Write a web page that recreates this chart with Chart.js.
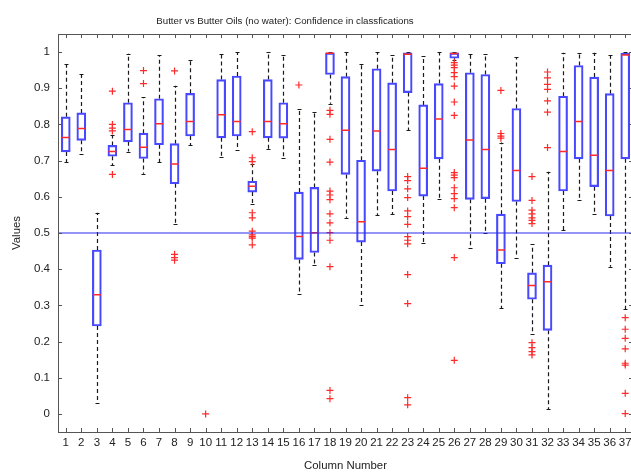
<!DOCTYPE html>
<html><head><meta charset="utf-8">
<script src="https://cdn.jsdelivr.net/npm/chart.js@4/dist/chart.umd.min.js"></script>
<style>html,body{margin:0;padding:0;overflow:hidden;background:#fff;width:631px;height:474px}canvas{display:block}</style>
</head><body>
<canvas id="c" width="640" height="474"></canvas>
<script>
const columns = ['1','2','3','4','5','6','7','8','9','10','11','12','13','14','15','16','17','18','19','20','21','22','23','24','25','26','27','28','29','30','31','32','33','34','35','36','37'];
const whiskerLow  = [0.695,0.719,0.030,0.687,0.725,0.664,0.696,0.526,0.742,null,0.710,0.729,0.581,0.731,0.708,0.331,0.411,0.857,0.542,0.300,0.550,0.552,0.785,0.473,0.593,0.978,0.458,0.501,0.292,0.432,0.222,0.013,0.507,0.592,0.552,0.407,0.290];
const q1          = [0.724,0.756,0.243,0.712,0.752,0.706,0.744,0.636,0.768,null,0.763,0.768,0.613,0.763,0.762,0.427,0.446,0.938,0.662,0.475,0.671,0.616,0.888,0.602,0.705,0.983,0.593,0.595,0.415,0.587,0.317,0.231,0.616,0.705,0.628,0.547,0.705];
const median      = [0.764,0.789,0.329,0.725,0.786,0.737,0.802,0.691,0.808,null,0.827,0.808,0.629,0.808,0.802,0.490,0.501,0.997,0.784,0.531,0.782,0.731,0.994,0.679,0.815,0.996,0.757,0.731,0.453,0.673,0.355,0.365,0.725,0.808,0.715,0.673,0.992];
const q3          = [0.821,0.832,0.453,0.742,0.860,0.776,0.871,0.747,0.886,null,0.924,0.934,0.643,0.924,0.860,0.613,0.626,0.998,0.932,0.701,0.954,0.915,0.998,0.854,0.913,0.998,0.943,0.938,0.552,0.844,0.390,0.411,0.878,0.963,0.931,0.885,0.997];
const whiskerHigh = [0.966,0.940,0.556,0.770,0.996,0.876,0.992,0.907,0.977,null,0.995,1.000,0.690,1.000,0.991,0.844,0.835,1.000,1.000,0.966,1.000,0.992,1.000,0.989,1.000,1.000,0.995,0.994,0.750,0.986,0.469,0.669,0.998,0.998,0.998,0.992,1.000];
const outliers = [
  [],[],[],
  [0.892,0.800,0.790,0.782,0.662],
  [],
  [0.949,0.913],
  [],
  [0.948,0.441,0.432,0.425],
  [],
  [0.000],
  [],[],
  [0.780,0.708,0.697,0.556,0.542,0.505,0.495,0.490,0.486,0.467],
  [],[],
  [0.909],
  [],
  [0.839,0.828,0.759,0.696,0.616,0.605,0.592,0.553,0.528,0.501,0.480,0.407,0.065,0.042],
  [],[],[],[],
  [0.656,0.645,0.622,0.598,0.561,0.545,0.524,0.490,0.480,0.470,0.385,0.305,0.045,0.025],
  [],[],
  [0.971,0.964,0.957,0.943,0.932,0.906,0.862,0.825,0.667,0.660,0.653,0.625,0.609,0.595,0.570,0.432,0.148],
  [],[],
  [0.894,0.775,0.768,0.762],
  [],
  [0.656,0.590,0.563,0.553,0.542,0.535,0.526,0.197,0.183,0.172,0.163],
  [0.945,0.929,0.911,0.897,0.865,0.834,0.736],
  [],[],[],[],
  [0.266,0.234,0.209,0.180,0.140,0.135,0.057,0.001]
];
const yTickValues = [0,0.1,0.2,0.3,0.4,0.5,0.6,0.7,0.8,0.9,1];
const referenceValue = 0.5;
const titleText = 'Butter vs Butter Oils (no water): Confidence in classfications';
const xTitle = 'Column Number';
const yTitle = 'Values';

const FONT = '"Liberation Sans", Arial, sans-serif';
const boxRanges = columns.map((c,i) => q1[i] === null ? null : [q1[i], q3[i]]);
const outlierPoints = [];
outliers.forEach((list,i) => list.forEach(v => outlierPoints.push({x: columns[i], y: v})));

const boxPlugin = {
  id: 'boxParts',
  beforeDatasetsDraw(chart) {
    const {ctx, scales: {x, y}} = chart;
    ctx.save();
    ctx.strokeStyle = '#1a1a1a';
    ctx.lineWidth = 1.2;
    ctx.setLineDash([4, 3]);
    columns.forEach((c, i) => {
      if (q1[i] === null) return;
      const px = Math.round(x.getPixelForValue(i)) + 0.5;
      ctx.beginPath();
      ctx.moveTo(px, y.getPixelForValue(q3[i]));
      ctx.lineTo(px, y.getPixelForValue(whiskerHigh[i]));
      ctx.moveTo(px, y.getPixelForValue(q1[i]));
      ctx.lineTo(px, y.getPixelForValue(whiskerLow[i]));
      ctx.stroke();
    });
    ctx.setLineDash([]);
    ctx.beginPath();
    columns.forEach((c, i) => {
      if (q1[i] === null) return;
      const px = Math.round(x.getPixelForValue(i)) + 0.5;
      [whiskerHigh[i], whiskerLow[i]].forEach(v => {
        const py = Math.round(y.getPixelForValue(v)) + 0.5;
        ctx.moveTo(px - 2, py); ctx.lineTo(px + 2, py);
      });
    });
    ctx.stroke();
    ctx.restore();
  },
  afterDatasetsDraw(chart) {
    const {ctx, chartArea, scales: {x, y}} = chart;
    ctx.save();
    ctx.strokeStyle = '#ff2a2a';
    ctx.lineWidth = 1.5;
    ctx.beginPath();
    columns.forEach((c, i) => {
      if (median[i] === null) return;
      const px = x.getPixelForValue(i);
      const py = y.getPixelForValue(median[i]);
      ctx.moveTo(px - 4, py); ctx.lineTo(px + 4, py);
    });
    ctx.stroke();
    ctx.strokeStyle = '#2b2bf0';
    ctx.lineWidth = 1.2;
    const ry = y.getPixelForValue(referenceValue);
    ctx.beginPath();
    ctx.moveTo(chartArea.left, ry); ctx.lineTo(chartArea.right, ry);
    ctx.stroke();
    ctx.restore();
  },
  afterDraw(chart) {
    const {ctx, chartArea: a, scales: {x, y}} = chart;
    ctx.save();
    ctx.strokeStyle = '#555';
    ctx.lineWidth = 1;
    ctx.strokeRect(Math.round(a.left) + 0.5, Math.round(a.top) + 0.5, Math.round(a.right - a.left), Math.round(a.bottom - a.top));
    ctx.beginPath();
    columns.forEach((c, i) => {
      const px = Math.round(x.getPixelForValue(i)) + 0.5;
      ctx.moveTo(px, a.bottom); ctx.lineTo(px, a.bottom - 4);
      ctx.moveTo(px, a.top); ctx.lineTo(px, a.top + 4);
    });
    yTickValues.forEach(v => {
      const py = Math.round(y.getPixelForValue(v)) + 0.5;
      ctx.moveTo(a.left, py); ctx.lineTo(a.left + 4, py);
      ctx.moveTo(a.right, py); ctx.lineTo(a.right - 4, py);
    });
    ctx.stroke();
    ctx.fillStyle = '#222';
    ctx.textAlign = 'center';
    ctx.textBaseline = 'middle';
    ctx.font = '9.7px ' + FONT;
    ctx.fillText(titleText, 285, 21);
    ctx.font = '11.4px ' + FONT;
    ctx.fillText(xTitle, (a.left + a.right) / 2, 466);
    ctx.translate(17, (a.top + a.bottom) / 2);
    ctx.rotate(-Math.PI / 2);
    ctx.fillText(yTitle, 0, 0);
    ctx.restore();
  }
};

new Chart(document.getElementById('c'), {
  type: 'bar',
  data: {
    labels: columns,
    datasets: [
      {type: 'bar', data: boxRanges, backgroundColor: 'rgba(255,255,255,0)', borderColor: '#4848ff', borderWidth: 1.5, borderSkipped: false, barThickness: 9, order: 2},
      {type: 'line', data: outlierPoints, showLine: false, pointStyle: 'cross', pointRadius: 3.5, pointBorderColor: '#ff2a2a', pointBorderWidth: 1.2, borderColor: '#ff2a2a', backgroundColor: '#ff2a2a', order: 1}
    ]
  },
  options: {
    responsive: false, animation: false, events: [],
    layout: {padding: {top: 34, right: 7, left: 0, bottom: 0}},
    plugins: {legend: {display: false}, tooltip: {enabled: false}, title: {display: false}},
    scales: {
      x: {type: 'category', offset: true, grid: {display: false, drawTicks: false}, border: {display: false},
          ticks: {autoSkip: false, maxRotation: 0, minRotation: 0, padding: 4, color: '#222', font: {family: FONT, size: 11.5}},
          afterFit(s) { s.height = 42; }},
      y: {type: 'linear', min: -0.05, max: 1.05, bounds: 'data', grid: {display: false, drawTicks: false}, border: {display: false},
          ticks: {padding: 8, color: '#222', font: {family: FONT, size: 11.5},
                  callback: v => (Math.abs(v) < 1e-9 ? '0' : String(Math.round(v * 10) / 10))},
          afterBuildTicks(s) { s.ticks = yTickValues.map(v => ({value: v})); },
          afterFit(s) { s.width = 58; }}
    }
  },
  plugins: [boxPlugin]
});
</script>
</body></html>
